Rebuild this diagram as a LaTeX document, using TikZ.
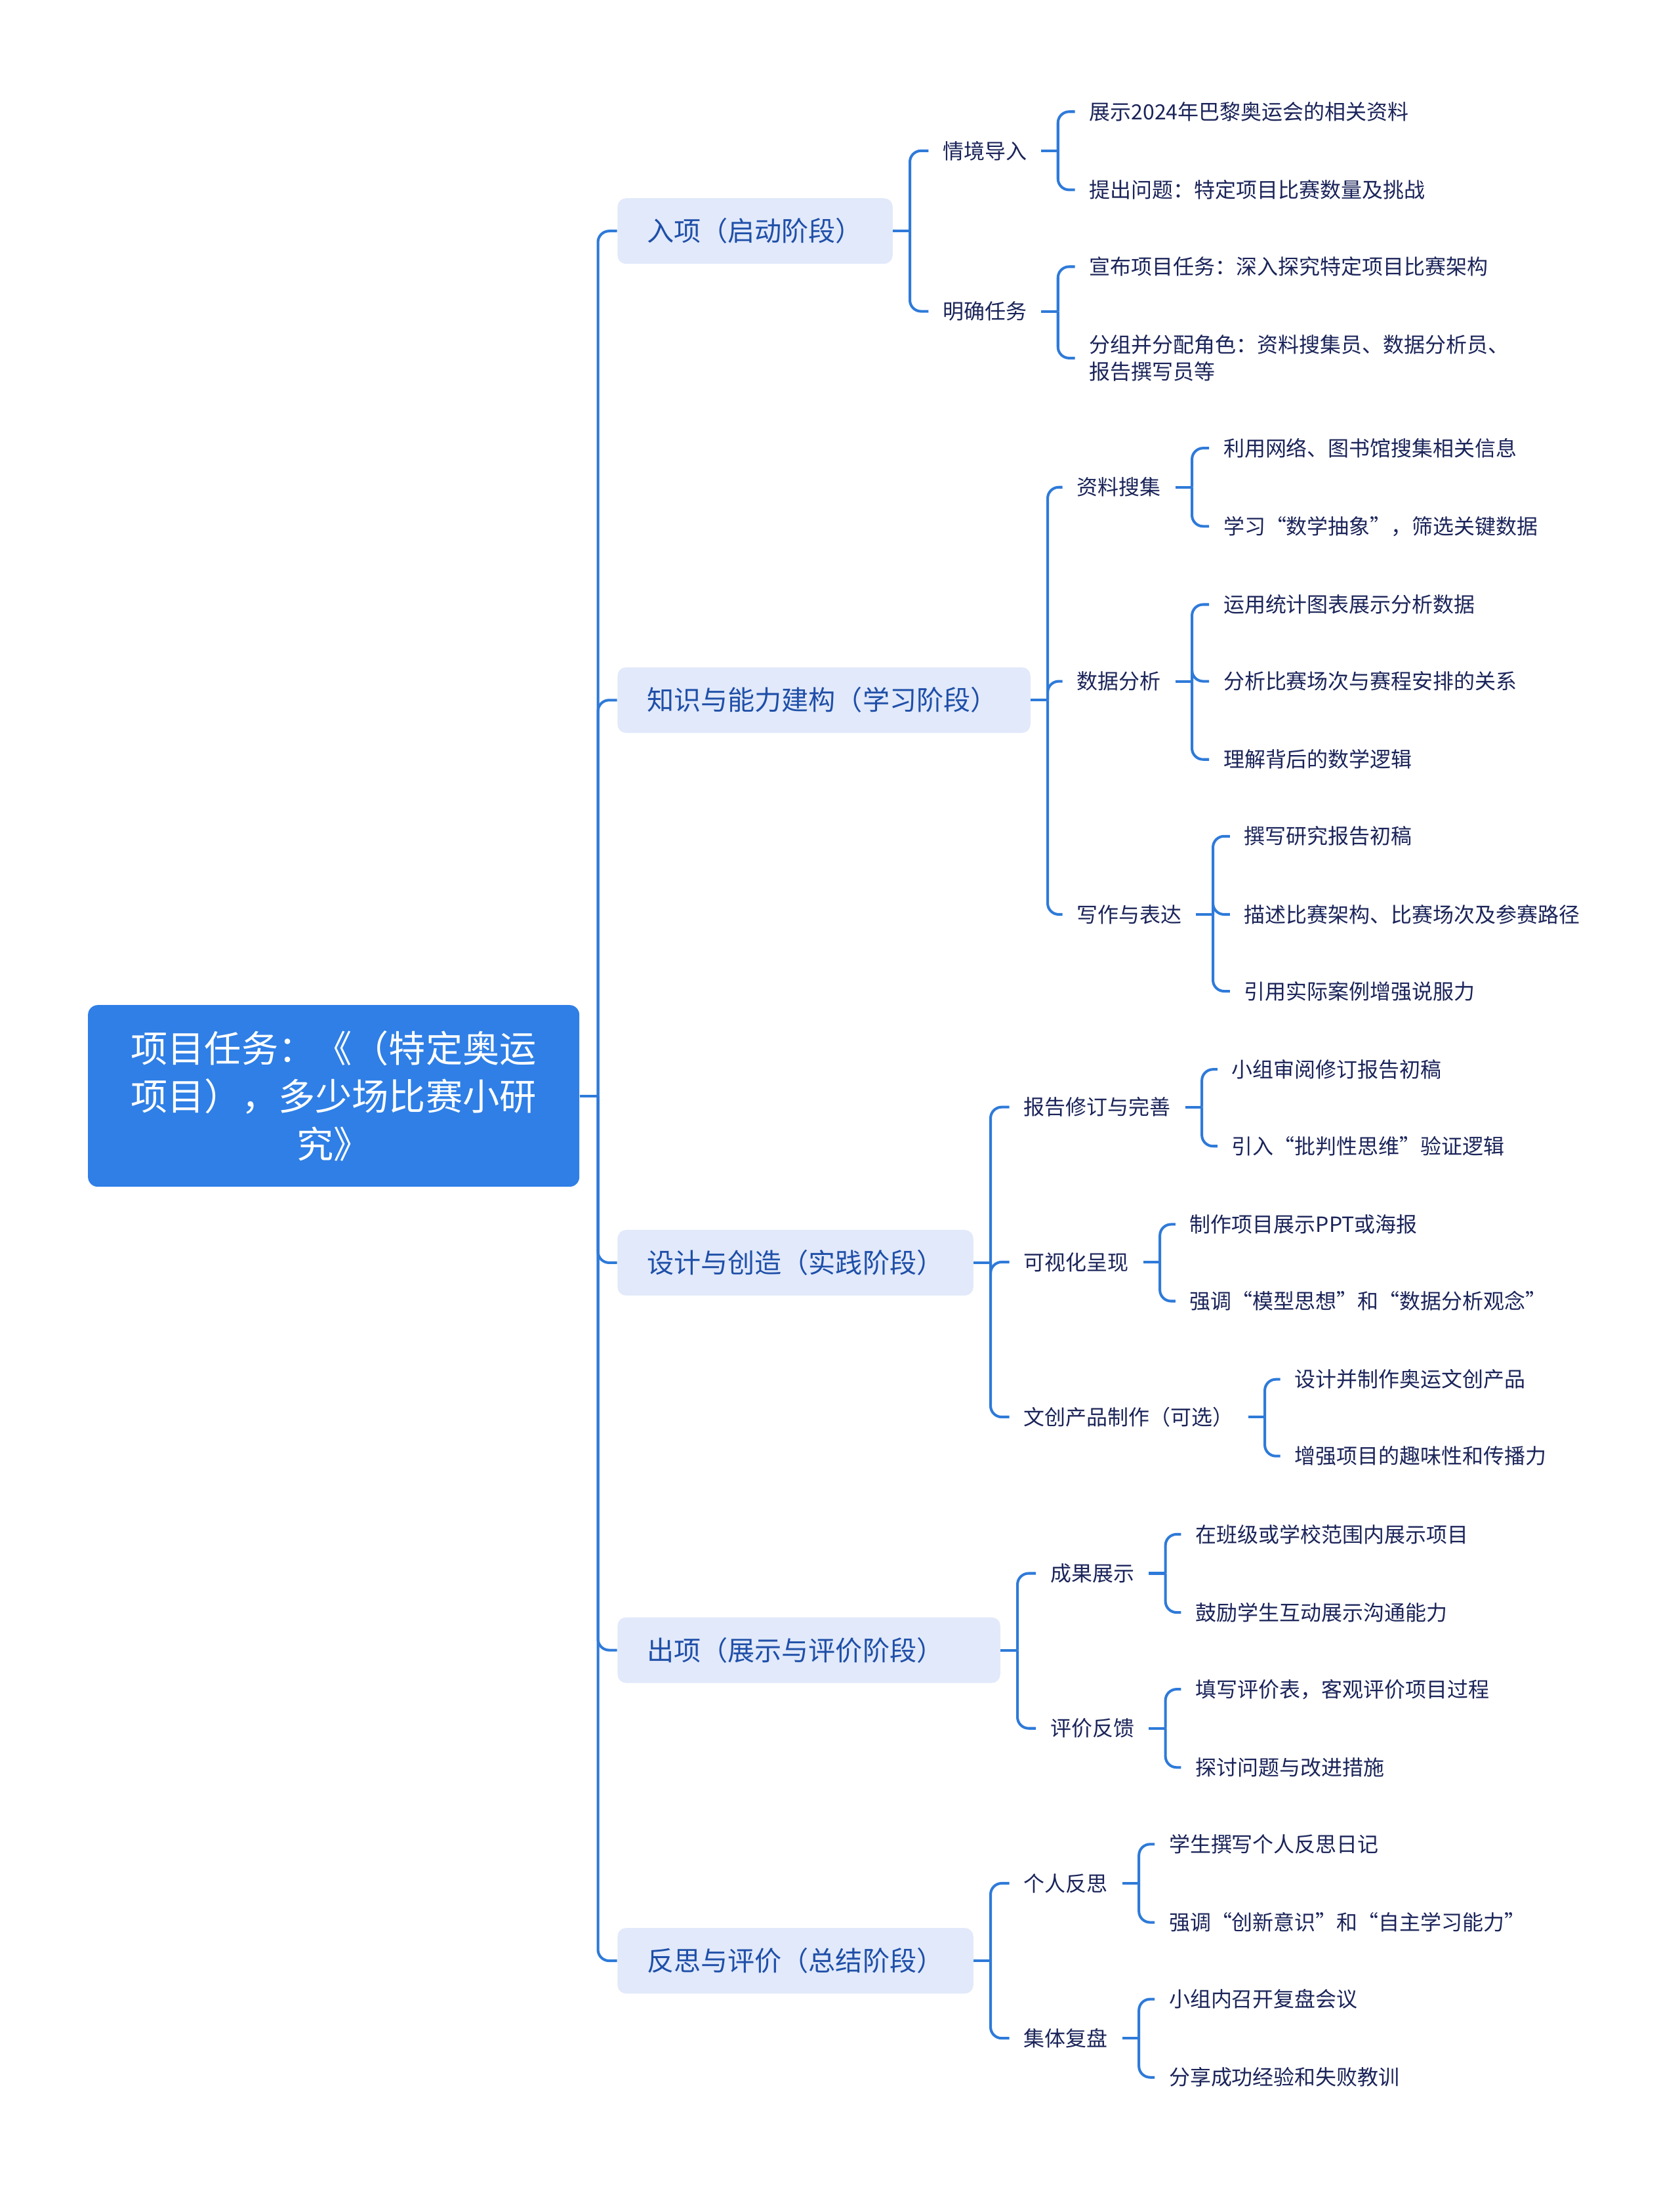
\documentclass[tikz,border=0pt]{standalone}
\usepackage{fontspec}
\setmainfont{Noto Sans CJK SC}
\usetikzlibrary{calc}
\definecolor{rootblue}{HTML}{2F7FE6}
\definecolor{lineblue}{HTML}{2E7AD9}
\definecolor{stagefill}{HTML}{E1E9FA}
\definecolor{stagetext}{HTML}{1F4FA8}
\definecolor{leaftext}{HTML}{1B2459}
\begin{document}
\begin{tikzpicture}[x=0.21281mm,y=-0.21281mm,
  link/.style={draw=lineblue,line width=1.15pt},
  rootbox/.style={fill=rootblue,text=white,rounded corners=1.5mm,minimum width=74.9mm,minimum height=27.7mm,align=center,font=\fontsize{16}{20.8}\selectfont},
  stage/.style={fill=stagefill,text=stagetext,rounded corners=1.3mm,inner xsep=4.47mm,minimum height=10mm,anchor=west,text width=#1,align=left,font=\fontsize{11.7}{13}\selectfont},
  leaf/.style={text=leaftext,inner xsep=2.13mm,inner ysep=1mm,anchor=west,align=left,font=\fontsize{9.1}{11.5}\selectfont}]
\useasboundingbox (0,0) rectangle (1203,1568);

%中心
\node[rootbox] (root) at (239,785) {项目任务：《（特定奥运\\项目），多少场比赛小研\\究》};

%阶段
\node[stage=33mm] (s1) at (442,165.5) {入项（启动阶段）};
\node[stage=54mm] (s2) at (442,501.5) {知识与能力建构（学习阶段）};
\node[stage=45.3mm] (s3) at (442,904.5) {设计与创造（实践阶段）};
\node[stage=49.4mm] (s4) at (442,1182) {出项（展示与评价阶段）};
\node[stage=45.3mm] (s5) at (442,1404.5) {反思与评价（总结阶段）};

%二级
\node[leaf] (s1a) at (665,108) {情境导入};
\node[leaf] (s1b) at (665,223) {明确任务};
\node[leaf] (s2a) at (761,349) {资料搜集};
\node[leaf] (s2b) at (761,488) {数据分析};
\node[leaf] (s2c) at (761,655) {写作与表达};
\node[leaf] (s3a) at (723,793) {报告修订与完善};
\node[leaf] (s3b) at (723,904) {可视化呈现};
\node[leaf] (s3c) at (723,1015) {文创产品制作（可选）};
\node[leaf] (s4a) at (742,1127) {成果展示};
\node[leaf] (s4b) at (742,1238) {评价反馈};
\node[leaf] (s5a) at (723,1349) {个人反思};
\node[leaf] (s5b) at (723,1460) {集体复盘};

%三级
\node[leaf] (s1a1) at (770,80) {展示2024年巴黎奥运会的相关资料};
\node[leaf] (s1a2) at (770,136) {提出问题：特定项目比赛数量及挑战};
\node[leaf] (s1b1) at (770,191) {宣布项目任务：深入探究特定项目比赛架构};
\node[leaf] (s1b2) at (770,256.5) {分组并分配角色：资料搜集员、数据分析员、\\报告撰写员等};
\node[leaf] (s2a1) at (866,321) {利用网络、图书馆搜集相关信息};
\node[leaf] (s2a2) at (866,377) {学习“数学抽象”，筛选关键数据};
\node[leaf] (s2b1) at (866,433) {运用统计图表展示分析数据};
\node[leaf] (s2b2) at (866,488) {分析比赛场次与赛程安排的关系};
\node[leaf] (s2b3) at (866,544) {理解背后的数学逻辑};
\node[leaf] (s2c1) at (881,599) {撰写研究报告初稿};
\node[leaf] (s2c2) at (881,655) {描述比赛架构、比赛场次及参赛路径};
\node[leaf] (s2c3) at (881,710) {引用实际案例增强说服力};
\node[leaf] (s3a1) at (872,766) {小组审阅修订报告初稿};
\node[leaf] (s3a2) at (872,821) {引入“批判性思维”验证逻辑};
\node[leaf] (s3b1) at (842,877) {制作项目展示PPT或海报};
\node[leaf] (s3b2) at (842,932) {强调“模型思想”和“数据分析观念”};
\node[leaf] (s3c1) at (917,988) {设计并制作奥运文创产品};
\node[leaf] (s3c2) at (917,1043) {增强项目的趣味性和传播力};
\node[leaf] (s4a1) at (846,1099) {在班级或学校范围内展示项目};
\node[leaf] (s4a2) at (846,1155) {鼓励学生互动展示沟通能力};
\node[leaf] (s4b1) at (846,1210) {填写评价表，客观评价项目过程};
\node[leaf] (s4b2) at (846,1266) {探讨问题与改进措施};
\node[leaf] (s5a1) at (827,1321) {学生撰写个人反思日记};
\node[leaf] (s5a2) at (827,1377) {强调“创新意识”和“自主学习能力”};
\node[leaf] (s5b1) at (827,1432) {小组内召开复盘会议};
\node[leaf] (s5b2) at (827,1488) {分享成功经验和失败教训};

%主干
\draw[link] (root.east) -- ++(13,0);
\foreach \c in {s1,s2,s3,s4,s5}
  \draw[link,rounded corners=1.7mm] (root.east) ++(13,0) |- (\c.west);

%分支
\foreach \p/\cs in {s1/{s1a,s1b},s2/{s2a,s2b,s2c},s3/{s3a,s3b,s3c},s4/{s4a,s4b},s5/{s5a,s5b},
    s1a/{s1a1,s1a2},s1b/{s1b1,s1b2},s2a/{s2a1,s2a2},s2b/{s2b1,s2b2,s2b3},s2c/{s2c1,s2c2,s2c3},
    s3a/{s3a1,s3a2},s3b/{s3b1,s3b2},s3c/{s3c1,s3c2},s4a/{s4a1,s4a2},s4b/{s4b1,s4b2},
    s5a/{s5a1,s5a2},s5b/{s5b1,s5b2}}{
  \draw[link] (\p.east) -- ++(12,0);
  \foreach \c in \cs
    \draw[link,rounded corners=1.7mm] (\p.east) ++(12,0) |- (\c.west);
}
\end{tikzpicture}
\end{document}
